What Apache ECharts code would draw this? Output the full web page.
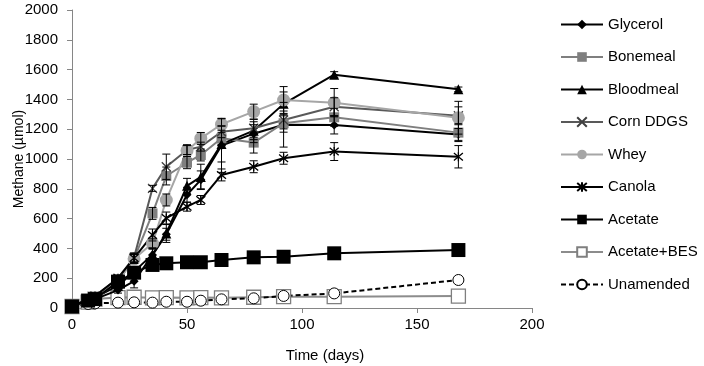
<!DOCTYPE html>
<html>
<head>
<meta charset="utf-8">
<script src="https://cdn.jsdelivr.net/npm/echarts@6/dist/echarts.min.js"></script>
<style>
  html, body { margin: 0; padding: 0; background: #fff; }
  #chart { width: 704px; height: 366px; }
</style>
</head>
<body>
<div id="chart"></div>
<script>
// sampling days
var days = [0, 7, 10, 20, 27, 35, 41, 50, 56, 65, 79, 92, 114, 168];

// methane (umol) per treatment
var glycerol   = [10, 50, 60, 120, 180, 355, 495, 760, 860, 1090, 1170, 1230, 1228, 1165];
var bonemeal   = [10, 55, 70, 180, 330, 635, 886, 975, 1027, 1139, 1110, 1240, 1280, 1177];
var bloodmeal  = [10, 60, 70, 150, 244, 360, 500, 820, 880, 1100, 1190, 1370, 1566, 1468];
var cornDDGS   = [10, 60, 80, 200, 340, 803, 948, 1060, 1083, 1183, 1206, 1262, 1351, 1290];
var whey       = [10, 50, 60, 180, 330, 434, 725, 1056, 1138, 1233, 1318, 1396, 1378, 1277];
var canola     = [10, 60, 80, 200, 335, 490, 604, 680, 725, 893, 948, 1005, 1050, 1015];
var acetate    = [10, 50, 60, 177, 237, 289, 300, 307, 307, 322, 340, 344, 367, 389];
var acetateBES = [10, 40, 60, 70, 72, 68, 70, 68, 70, 68, 72, 76, 76, 80];
var unamended  = [13, 27, 31, 36, 38, 36, 42, 42, 49, 58, 65, 81, 98, 188];

// standard errors (+/-)
var glycerolErr  = [0, 0, 0, 20, 45, 40, 40, 50, 60, 180, 60, 150, 60, 40];
var bonemealErr  = [0, 0, 0, 20, 30, 40, 60, 40, 40, 40, 70, 60, 60, 60];
var bloodmealErr = [0, 0, 0, 20, 30, 40, 60, 50, 85, 120, 60, 80, 20, 15];
var cornErr      = [0, 0, 0, 20, 30, 20, 85, 30, 30, 40, 60, 60, 60, 60];
var wheyErr      = [0, 0, 0, 20, 30, 30, 40, 40, 40, 40, 50, 90, 95, 110];
var canolaErr    = [0, 0, 0, 20, 30, 40, 40, 30, 30, 40, 40, 40, 60, 75];

var names = ['Glycerol', 'Bonemeal', 'Bloodmeal', 'Corn DDGS', 'Whey', 'Canola', 'Acetate', 'Acetate+BES', 'Unamended'];

var FONT = 'Liberation Sans, Arial, sans-serif';

function pts(vals) {
  var out = [];
  for (var i = 0; i < days.length; i++) out.push([days[i], vals[i]]);
  return out;
}

function errPts(vals, errs) {
  var out = [];
  for (var i = 0; i < days.length; i++) {
    if (errs[i] > 0) out.push([days[i], vals[i] - errs[i], vals[i] + errs[i]]);
  }
  return out;
}

var errData = [].concat(
  errPts(glycerol, glycerolErr),
  errPts(bonemeal, bonemealErr),
  errPts(bloodmeal, bloodmealErr),
  errPts(cornDDGS, cornErr),
  errPts(whey, wheyErr),
  errPts(canola, canolaErr)
);

function lineSeries(name, vals, color, symbol, size, opts) {
  opts = opts || {};
  return {
    name: name,
    type: 'line',
    data: pts(vals),
    symbol: symbol,
    symbolSize: size,
    z: opts.z || 3,
    lineStyle: { color: color, width: 2, type: opts.dash ? [5, 3] : 'solid' },
    itemStyle: {
      color: opts.fill || color,
      borderColor: opts.border || color,
      borderWidth: opts.borderWidth || 0
    },
    emphasis: { disabled: true }
  };
}

var crossPath = 'path://M0,0L10,10M10,0L0,10';
var starPath = 'path://M0,0L10,10M10,0L0,10M5,-1L5,11';

var chart = echarts.init(document.getElementById('chart'));

var option = {
  animation: false,
  backgroundColor: '#fff',
  textStyle: { fontFamily: FONT },
  grid: { left: 72, top: 10, width: 460, height: 298, outerBoundsMode: 'none', containLabel: false },
  legend: {
    data: names,
    orient: 'vertical',
    left: 555,
    top: 12,
    itemWidth: 42,
    itemHeight: 12,
    itemGap: 17.5,
    textStyle: { fontFamily: FONT, fontSize: 15, color: '#000' }
  },
  xAxis: {
    type: 'value',
    min: 0, max: 200, interval: 50,
    name: 'Time (days)',
    nameLocation: 'middle',
    nameGap: 40,
    nameMoveOverlap: false,
    nameTextStyle: { fontFamily: FONT, fontSize: 15, color: '#000', padding: [0, 0, 0, 46] },
    axisLine: { show: true, lineStyle: { color: '#868686', width: 1 } },
    axisTick: { show: true, length: 5, lineStyle: { color: '#868686' } },
    axisLabel: { fontFamily: FONT, fontSize: 15, color: '#000', margin: 9 },
    splitLine: { show: false }
  },
  yAxis: {
    type: 'value',
    min: 0, max: 2000, interval: 200,
    name: 'Methane (µmol)',
    nameLocation: 'middle',
    nameGap: 46,
    nameMoveOverlap: false,
    nameTextStyle: { fontFamily: FONT, fontSize: 14, color: '#000' },
    axisLine: { show: true, lineStyle: { color: '#868686', width: 1 } },
    axisTick: { show: true, length: 5, lineStyle: { color: '#868686' } },
    axisLabel: {
      fontFamily: FONT, fontSize: 15, color: '#000', margin: 14,
      formatter: function (v) { return String(v); }
    },
    splitLine: { show: false }
  },
  series: [
    {
      name: 'errors',
      type: 'custom',
      z: 4,
      data: errData,
      encode: { x: 0, y: [1, 2] },
      renderItem: function (params, api) {
        var lo = api.coord([api.value(0), api.value(1)]);
        var hi = api.coord([api.value(0), api.value(2)]);
        var w = 4;
        var st = { stroke: '#000', lineWidth: 1 };
        return {
          type: 'group',
          children: [
            { type: 'line', shape: { x1: lo[0], y1: lo[1], x2: hi[0], y2: hi[1] }, style: st },
            { type: 'line', shape: { x1: lo[0] - w, y1: lo[1], x2: lo[0] + w, y2: lo[1] }, style: st },
            { type: 'line', shape: { x1: hi[0] - w, y1: hi[1], x2: hi[0] + w, y2: hi[1] }, style: st }
          ]
        };
      }
    },
    lineSeries('Glycerol', glycerol, '#000', 'diamond', 9),
    lineSeries('Bonemeal', bonemeal, '#7f7f7f', 'rect', 10),
    lineSeries('Bloodmeal', bloodmeal, '#000', 'triangle', 10),
    lineSeries('Corn DDGS', cornDDGS, '#595959', crossPath, 9,
      { fill: 'transparent', border: '#404040', borderWidth: 1.3 }),
    lineSeries('Whey', whey, '#a6a6a6', 'circle', 13),
    lineSeries('Canola', canola, '#000', starPath, 9,
      { fill: 'transparent', border: '#000', borderWidth: 1.3 }),
    lineSeries('Acetate', acetate, '#000', 'rect', 14),
    lineSeries('Acetate+BES', acetateBES, '#8c8c8c', 'rect', 14,
      { fill: '#fff', border: '#7f7f7f', borderWidth: 1.3, z: 2 }),
    lineSeries('Unamended', unamended, '#000', 'circle', 11,
      { fill: '#fff', border: '#000', borderWidth: 1, dash: true, z: 2 })
  ]
};

chart.setOption(option);
</script>
</body>
</html>
